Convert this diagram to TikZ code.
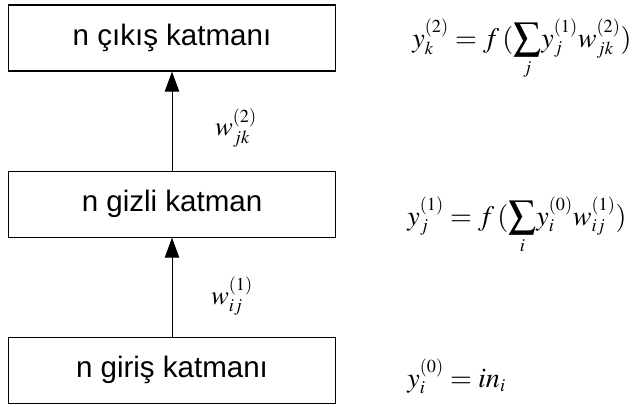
\documentclass[tikz,border=0pt]{standalone}
\usepackage{amsmath}
\usepackage{mathptmx}
\usepackage[no-math]{fontspec}
\setmainfont{Liberation Sans}
\usetikzlibrary{arrows.meta,positioning}
\DeclareMathSizes{20}{20}{13}{9}
\DeclareMathSizes{19}{19}{13}{9}
\newcommand{\bsum}{\mathop{\vcenter{\hbox{\scalebox{1.4}{$\textstyle\sum$}}}}\limits}

\tikzset{
  katman/.style={draw, line width=0.8pt, minimum width=8.19cm, minimum height=1.65cm,
    inner sep=0pt, font=\fontsize{21}{25}\selectfont},
  agirlik/.style={font=\fontsize{19}{23}\selectfont},
  denklem/.style={anchor=base west, inner sep=0pt, font=\fontsize{20}{24}\selectfont},
  ok/.style={-{Triangle[length=0.5cm, width=0.36cm]}, line width=0.7pt}
}

\begin{document}
\begin{tikzpicture}
  \thickmuskip=4mu
  \useasboundingbox (0,0) rectangle (15.975,10.15);

  % katmanlar
  \node[katman] (cikis) at (4.3,9.2) {n çıkış katmanı};
  \node[katman, below=2.475cm of cikis] (gizli) {n gizli katman};
  \node[katman, below=2.475cm of gizli] (giris) {n giriş katmanı};

  % baglantilar
  \draw[ok] (giris) -- (gizli);
  \draw[ok] (gizli) -- (cikis);

  % agirliklar
  \node[agirlik] (w2) at (5.9,6.95) {$w_{jk}^{(2)}$};
  \node[agirlik] (w1) at (5.8,2.75) {$w_{ij}^{(1)}$};

  % denklemler
  \node[denklem] (e2) at (10.3,8.975) {$y_k^{(2)} = f\mkern2mu(\bsum_j\mkern-2mu y_j^{(1)} w_{jk}^{(2)})$};
  \node[denklem] (e1) at (10.175,4.525) {$y_j^{(1)} = f\mkern2mu(\bsum_i\mkern-2mu y_i^{(0)} w_{ij}^{(1)})$};
  \node[denklem] (e0) at (10.175,0.475) {$y_i^{(0)} = in_i$};
\end{tikzpicture}
\end{document}
